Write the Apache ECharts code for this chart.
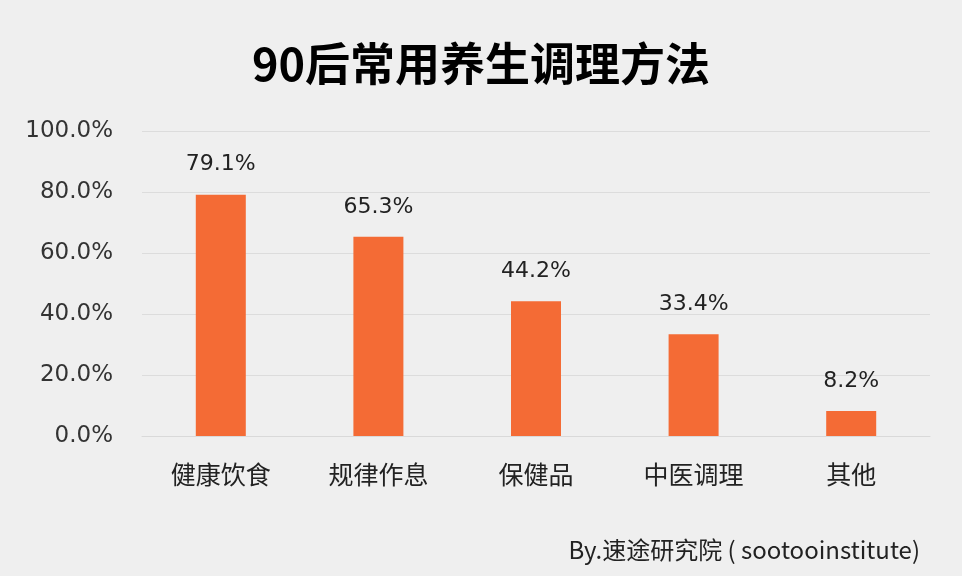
<!DOCTYPE html>
<html>
<head>
<meta charset="utf-8">
<script src="https://cdn.jsdelivr.net/npm/echarts@6/dist/echarts.min.js"></script>
<style>
  html, body { margin: 0; padding: 0; background: #efefef; }
  #main { width: 962px; height: 576px; }
</style>
</head>
<body>
<div id="main"></div>
<script>
// data
var categories = ['健康饮食', '规律作息', '保健品', '中医调理', '其他']
var shares = [79.1, 65.3, 44.2, 33.4, 8.2]

var font = '"Noto Sans CJK SC", "Microsoft YaHei", sans-serif'
var numFont = '"DejaVu Sans", Tahoma, sans-serif'
var myChart = echarts.init(document.getElementById('main'))
var option = {
  backgroundColor: '#efefef',
  title: [{
    text: '90后常用养生调理方法',
    left: 'center',
    top: 36,
    textStyle: {
      fontFamily: font,
      fontSize: 45,
      fontWeight: 'bold',
      color: '#000000'
    }
  }, {
    text: 'By.速途研究院 ( sootooinstitute)',
    right: 37,
    top: 533,
    textStyle: {
      fontFamily: font,
      fontSize: 24,
      fontWeight: 'normal',
      color: '#222222'
    }
  }],
  grid: {
    left: 142,
    right: 32,
    top: 131,
    bottom: 140
  },
  xAxis: {
    type: 'category',
    data: categories,
    axisLine: { lineStyle: { color: '#d9d9d9', width: 1 } },
    axisTick: { show: false },
    axisLabel: {
      margin: 26,
      fontFamily: font,
      fontSize: 25,
      color: '#222222'
    }
  },
  yAxis: {
    type: 'value',
    min: 0,
    max: 100,
    interval: 20,
    axisLine: { show: false },
    axisTick: { show: false },
    splitLine: { lineStyle: { color: '#dcdcdc', width: 1 } },
    axisLabel: {
      margin: 29,
      fontFamily: numFont,
      fontSize: 23,
      color: '#333333',
      formatter: function (v) { return v.toFixed(1) + '%' }
    }
  },
  series: [{
    type: 'bar',
    data: shares,
    barWidth: 50,
    itemStyle: { color: '#f46b35' },
    label: {
      show: true,
      position: 'top',
      distance: 19,
      fontFamily: numFont,
      fontSize: 22,
      color: '#222222',
      formatter: function (p) { return p.value.toFixed(1) + '%' }
    }
  }]
}
myChart.setOption(option)
</script>
</body>
</html>
